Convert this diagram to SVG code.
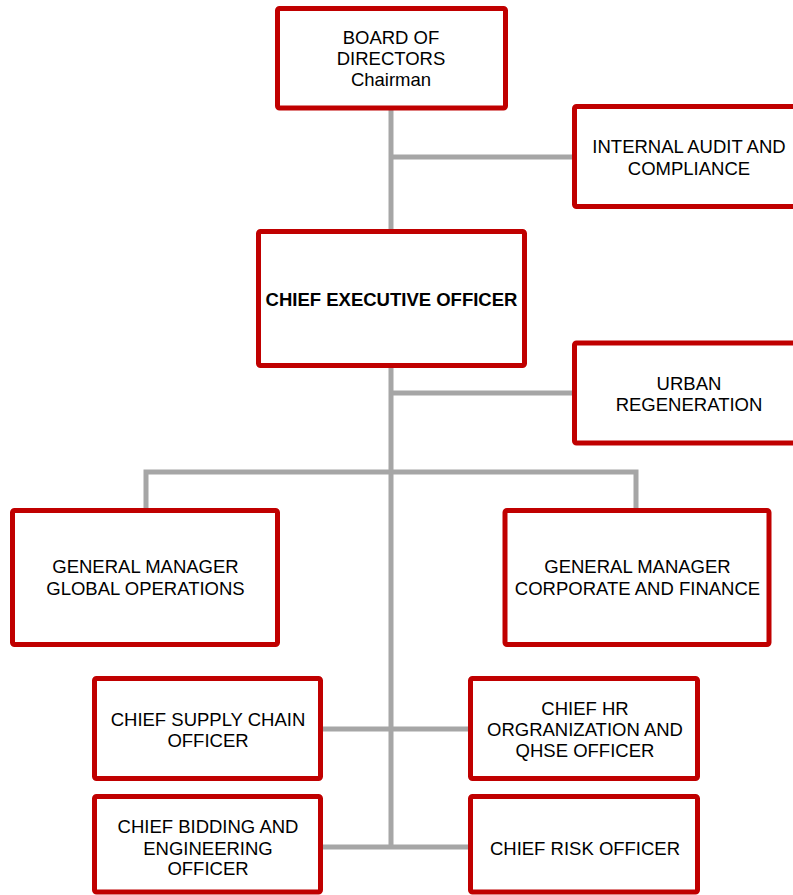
<svg xmlns="http://www.w3.org/2000/svg" width="793" height="895" viewBox="0 0 793 895">
<style>
.box{fill:#ffffff;stroke:#C00000;stroke-width:5;stroke-linejoin:round}
.ln{fill:none;stroke:#A6A6A6;stroke-width:5;stroke-linejoin:miter;stroke-linecap:butt}
text{font-family:"Liberation Sans",Arial,sans-serif;font-size:18.5px;fill:#000000;text-anchor:middle}
.b{font-weight:bold}
</style>
<rect width="793" height="895" fill="#ffffff"/>
<g id="connectors">
<line class="ln" x1="391" y1="108" x2="391" y2="231"/>
<line class="ln" x1="391" y1="157" x2="574" y2="157"/>
<line class="ln" x1="391" y1="366" x2="391" y2="848"/>
<line class="ln" x1="391" y1="393" x2="574" y2="393"/>
<polyline class="ln" points="146,510 146,472 636,472 636,510"/>
<line class="ln" x1="320" y1="729" x2="470" y2="729"/>
<line class="ln" x1="320" y1="847" x2="470" y2="847"/>
</g>
<g id="board">
<rect class="box" x="277.5" y="8.5" width="228" height="99.5" rx="2"/>
<text x="391" y="44">BOARD OF</text>
<text x="391" y="65">DIRECTORS</text>
<text x="391" y="86">Chairman</text>
</g>
<g id="audit">
<rect class="box" x="574.5" y="106.5" width="240" height="100" rx="2"/>
<text x="689" y="153">INTERNAL AUDIT AND</text>
<text x="689" y="175">COMPLIANCE</text>
</g>
<g id="ceo">
<rect class="box" x="258.5" y="231.5" width="266" height="134" rx="2"/>
<text class="b" x="391.5" y="306">CHIEF EXECUTIVE OFFICER</text>
</g>
<g id="urban">
<rect class="box" x="574.5" y="343" width="240" height="100" rx="2"/>
<text x="689" y="389.5">URBAN</text>
<text x="689" y="410.5">REGENERATION</text>
</g>
<g id="gm-global">
<rect class="box" x="12.5" y="510.5" width="265" height="134" rx="2"/>
<text x="145.5" y="573">GENERAL MANAGER</text>
<text x="145.5" y="595">GLOBAL OPERATIONS</text>
</g>
<g id="gm-corporate">
<rect class="box" x="505" y="510.5" width="264" height="134" rx="2"/>
<text x="637.5" y="573">GENERAL MANAGER</text>
<text x="637.5" y="595">CORPORATE AND FINANCE</text>
</g>
<g id="supply">
<rect class="box" x="94.5" y="678.5" width="226" height="100" rx="2"/>
<text x="208" y="726">CHIEF SUPPLY CHAIN</text>
<text x="208" y="747">OFFICER</text>
</g>
<g id="hr">
<rect class="box" x="470.5" y="678.5" width="227" height="100" rx="2"/>
<text x="585" y="715">CHIEF HR</text>
<text x="585" y="736">ORGRANIZATION AND</text>
<text x="585" y="757">QHSE OFFICER</text>
</g>
<g id="bidding">
<rect class="box" x="94.5" y="796.5" width="226" height="95.5" rx="2"/>
<text x="208" y="833">CHIEF BIDDING AND</text>
<text x="208" y="854.5">ENGINEERING</text>
<text x="208" y="875">OFFICER</text>
</g>
<g id="risk">
<rect class="box" x="470.5" y="796.5" width="227" height="95.5" rx="2"/>
<text x="585" y="855">CHIEF RISK OFFICER</text>
</g>
</svg>
